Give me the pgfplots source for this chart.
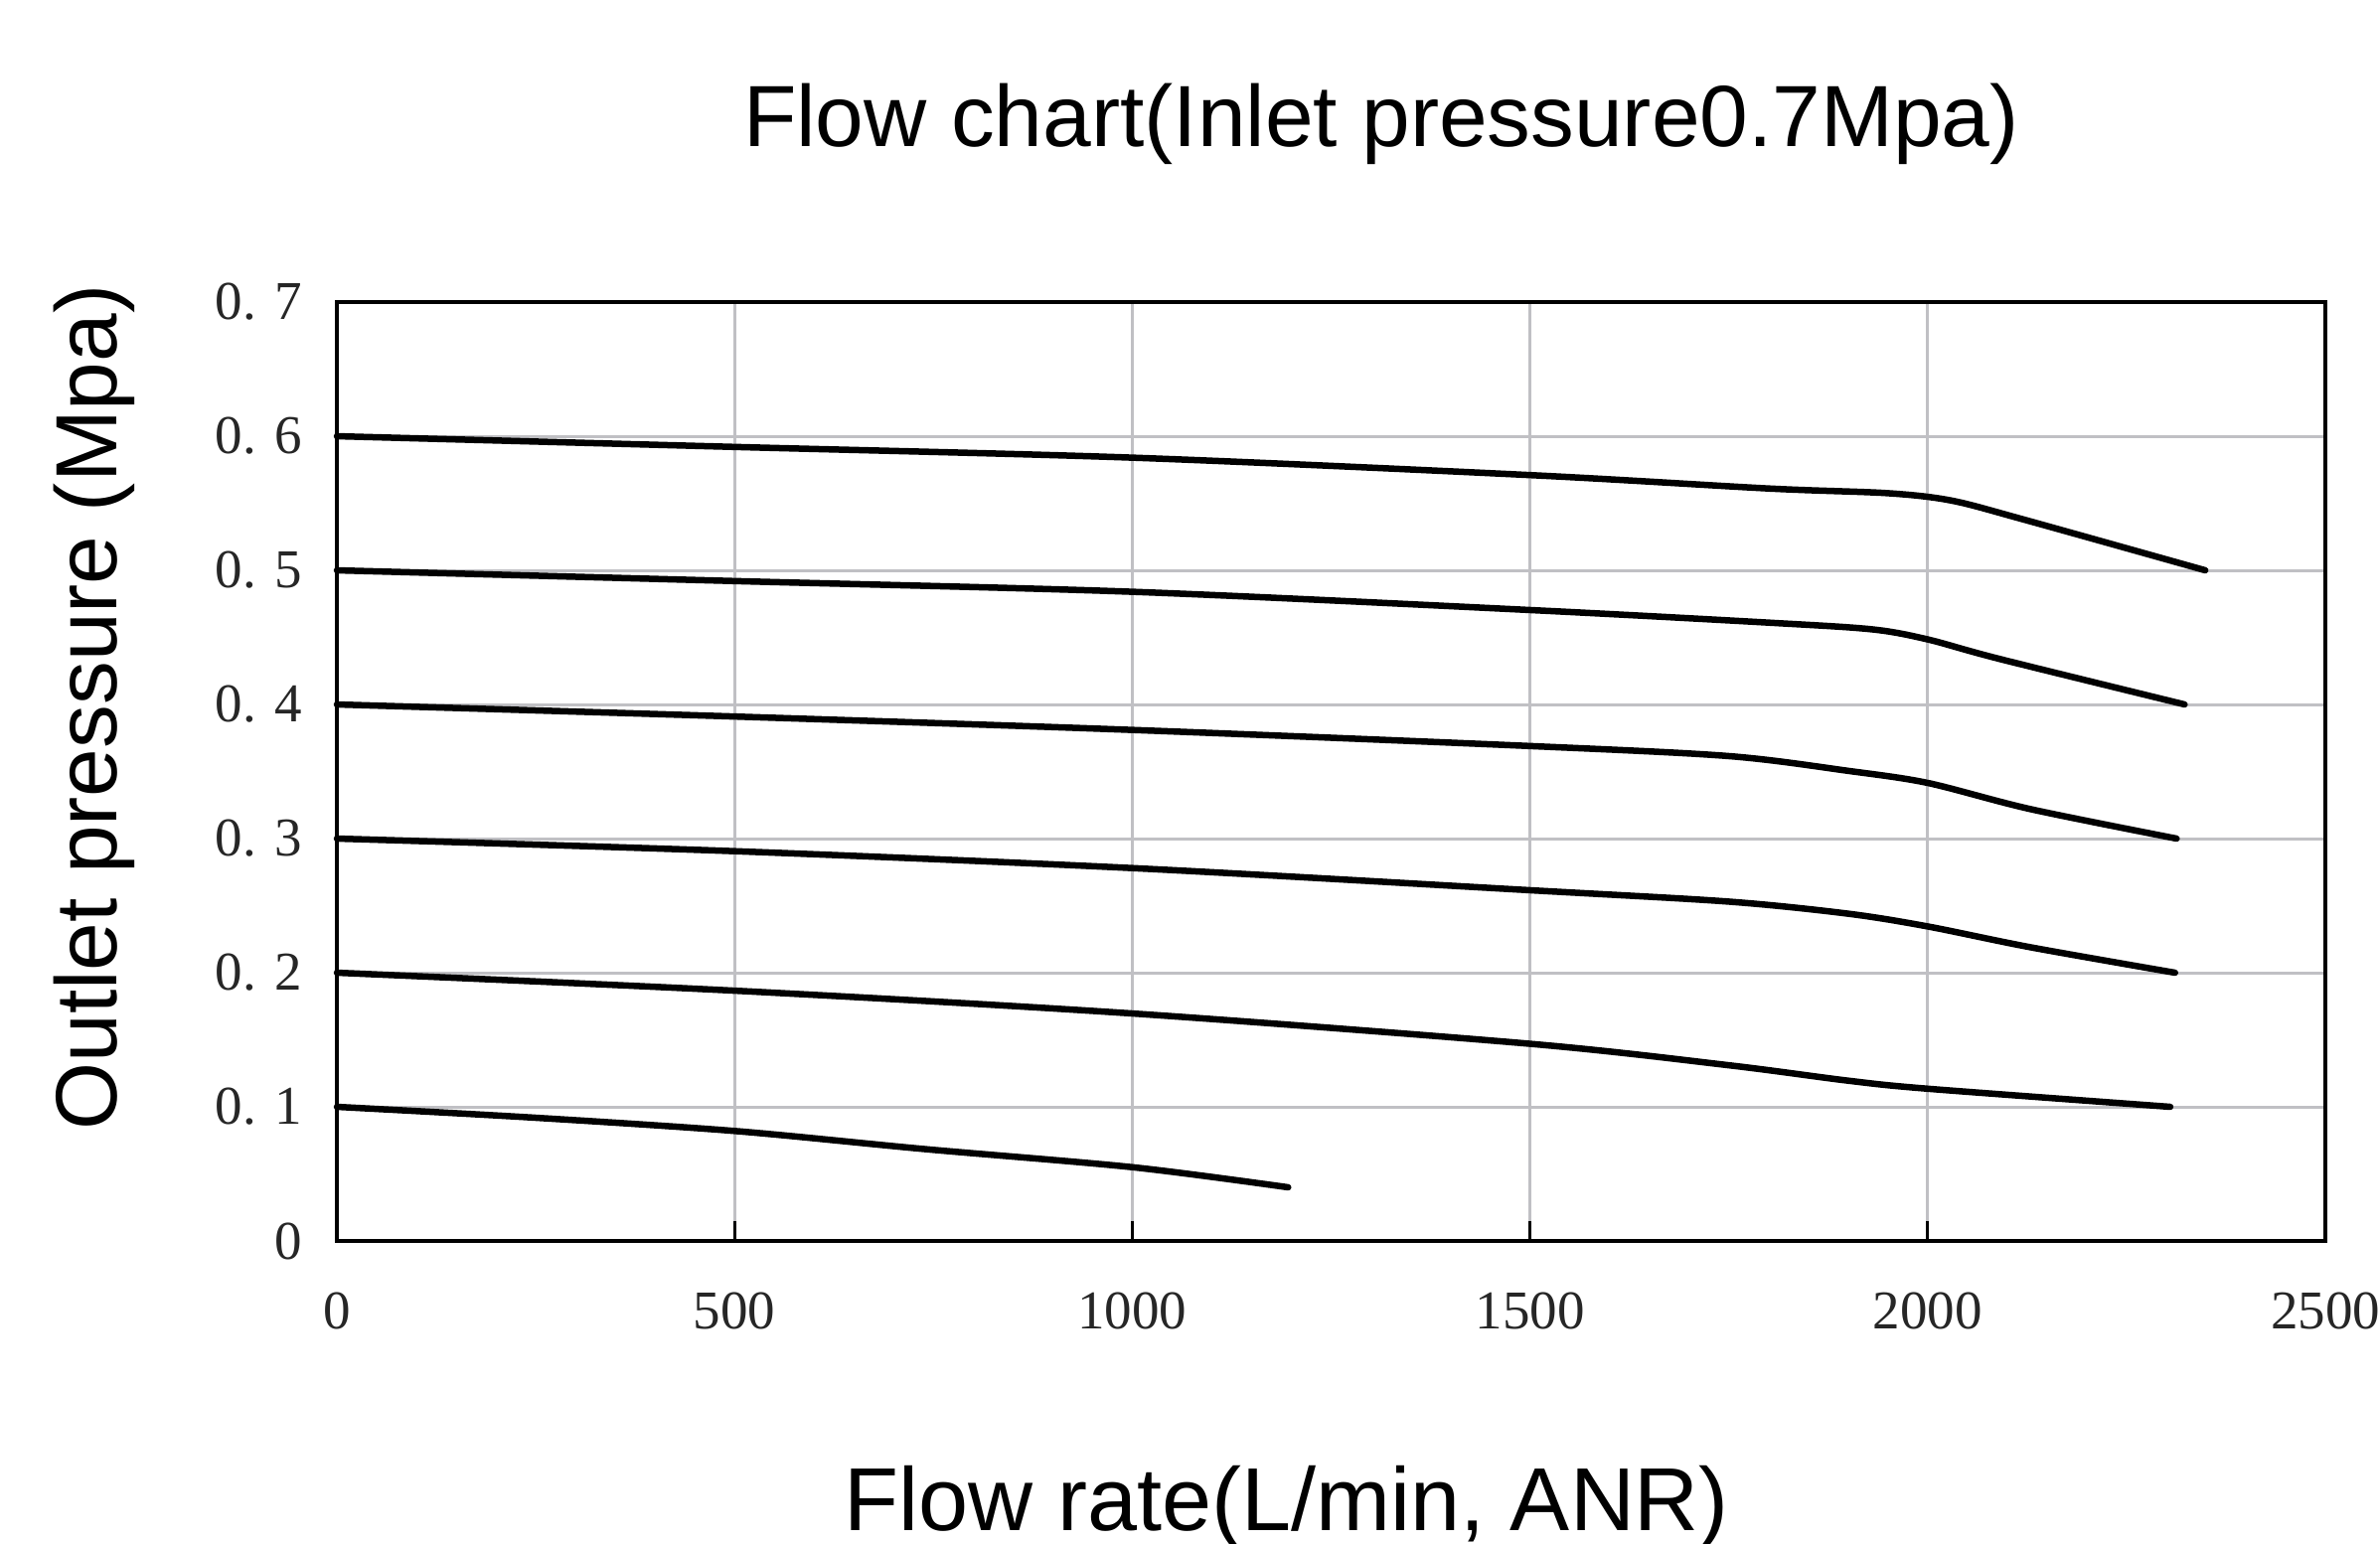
\documentclass[border=0pt]{standalone}
\usepackage{pgfplots}
\pgfplotsset{compat=1.18}
\usepackage{fontspec}
\setmainfont{Liberation Serif}
\newfontfamily\labfont{Liberation Sans}
\definecolor{gridgray}{RGB}{192,192,196}
\tikzset{curve/.style={black, solid, line width=1.3pt, line cap=round, line join=round, smooth, tension=0.5, mark=none}}
\begin{document}
\begin{tikzpicture}
\begin{axis}[
  at={(0,0)}, anchor=south west,
  scale only axis, width=400.2pt, height=189pt,
  xmin=0, xmax=2500, ymin=0, ymax=0.7,
  xtick={0,500,1000,1500,2000,2500},
  ytick={0,0.1,0.2,0.3,0.4,0.5,0.6,0.7},
  yticklabels={0,0. 1,0. 2,0. 3,0. 4,0. 5,0. 6,0. 7},
  xticklabels={0,500,1000,1500,2000,2500},
  xtick pos=lower,
  grid=major,
  grid style={gridgray, line width=0.6pt},
  axis line style={black, line width=0.8pt},
  major tick length=4pt,
  tick align=inside,
  xtick style={black, line width=0.6pt},
  ytick style={draw=none},
  tick label style={font=\fontsize{11}{13}\selectfont, text=black!85},
  xticklabel style={anchor=center, yshift=-14pt},
  yticklabel style={anchor=east, xshift=-3.5pt},
  /pgf/number format/assume math mode=true,
  clip=false,
]
\addplot[curve] coordinates {(0,0.6) (500,0.592) (1000,0.584) (1500,0.571) (1800,0.561) (1950,0.5575) (2030,0.552) (2120,0.538) (2349,0.5)};
\addplot[curve] coordinates {(0,0.5) (500,0.492) (1000,0.484) (1500,0.4704) (1800,0.461) (1930,0.456) (2000,0.4485) (2090,0.434) (2323,0.4)};
\addplot[curve] coordinates {(0,0.4) (500,0.391) (1000,0.381) (1500,0.369) (1750,0.3615) (1900,0.3505) (2000,0.3415) (2129,0.322) (2313,0.3)};
\addplot[curve] coordinates {(0,0.3) (500,0.2906) (1000,0.278) (1500,0.2615) (1750,0.253) (1900,0.244) (2000,0.2345) (2129,0.219) (2311,0.2)};
\addplot[curve] coordinates {(0,0.2) (500,0.1866) (1000,0.1696) (1500,0.147) (1750,0.131) (1900,0.1195) (2000,0.1135) (2305,0.1)};
\addplot[curve] coordinates {(0,0.1) (246,0.092) (500,0.082) (739,0.0685) (1000,0.055) (1196,0.04)};
\end{axis}
\node[anchor=base, inner sep=0pt, font=\labfont\fontsize{17.5}{20}\selectfont] at (210.2pt,220.2pt) {Flow chart(Inlet pressure0.7Mpa)};
\node[anchor=base, inner sep=0pt, font=\labfont\fontsize{18}{20}\selectfont] at (191.2pt,-58.2pt) {Flow rate(L/min, ANR)};
\node[rotate=90, anchor=center, inner sep=0pt, font=\labfont\fontsize{17.5}{20}\selectfont] at (-48.8pt,107.4pt) {Outlet pressure (Mpa)};
\pgfresetboundingbox
\path[use as bounding box] (-67.8pt,-60.8pt) rectangle (411.2pt,249.8pt);
\end{tikzpicture}
\end{document}
